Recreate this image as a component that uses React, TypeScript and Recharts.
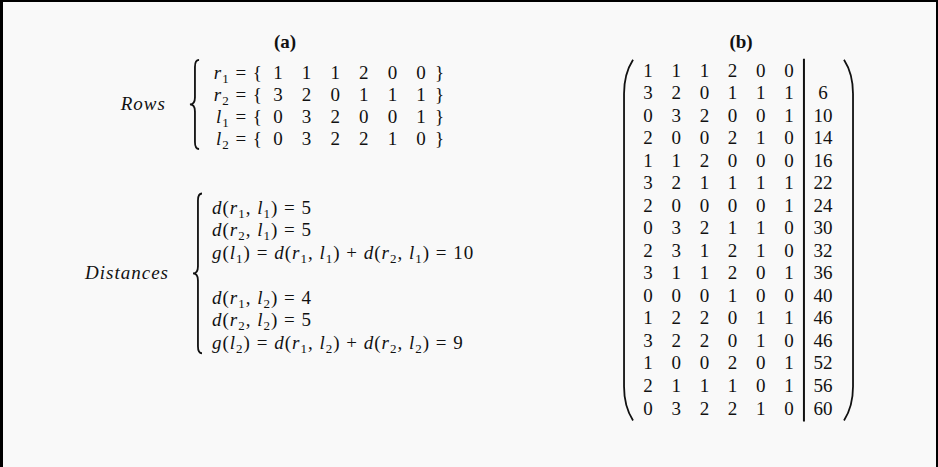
import React from 'react';
import { ScatterChart, Scatter, XAxis, YAxis, ReferenceArea, ReferenceLine } from 'recharts';

const W = 938;
const H = 467;
const FONT = '"Liberation Serif", "DejaVu Serif", serif';
const INK = '#111';
const FS = 19;

// (a) rows
const rowNames = ['r', 'r', 'l', 'l'];
const rowSubs = ['1', '2', '1', '2'];
const rowValues = [
  [1, 1, 1, 2, 0, 0],
  [3, 2, 0, 1, 1, 1],
  [0, 3, 2, 0, 0, 1],
  [0, 3, 2, 2, 1, 0],
];

// (a) distances: d(r1,l), d(r2,l) for each leaf, and g(l)
const leafSubs = ['1', '2'];
const leafDistances = [
  [5, 5],
  [4, 5],
];
const leafScores = [10, 9];

// (b) matrix + distance column
const matrixRows = [
  [1, 1, 1, 2, 0, 0],
  [3, 2, 0, 1, 1, 1],
  [0, 3, 2, 0, 0, 1],
  [2, 0, 0, 2, 1, 0],
  [1, 1, 2, 0, 0, 0],
  [3, 2, 1, 1, 1, 1],
  [2, 0, 0, 0, 0, 1],
  [0, 3, 2, 1, 1, 0],
  [2, 3, 1, 2, 1, 0],
  [3, 1, 1, 2, 0, 1],
  [0, 0, 0, 1, 0, 0],
  [1, 2, 2, 0, 1, 1],
  [3, 2, 2, 0, 1, 0],
  [1, 0, 0, 2, 0, 1],
  [2, 1, 1, 1, 0, 1],
  [0, 3, 2, 2, 1, 0],
];
const matrixDist = ['', '6', '10', '14', '16', '22', '24', '30', '32', '36', '40', '46', '46', '52', '56', '60'];

type Tok = { s: string; it?: boolean; sub?: boolean };

function MathText({ x, y, toks, anchor = 'start', spacing = 0 }: { x: number; y: number; toks: Tok[]; anchor?: string; spacing?: number }) {
  let down = false;
  return (
    <text x={x} y={y} textAnchor={anchor as any} fill={INK}
      style={{ whiteSpace: 'pre', fontFamily: FONT, fontSize: FS, letterSpacing: spacing }}>
      {toks.map((t, i) => {
        let dy: number | undefined;
        if (t.sub && !down) dy = 4;
        if (!t.sub && down) dy = -4;
        down = !!t.sub;
        return (
          <tspan key={i} dy={dy} style={{ fontStyle: t.it ? 'italic' : 'normal', fontSize: t.sub ? 13 : FS }}>
            {t.s}
          </tspan>
        );
      })}
    </text>
  );
}

const dTok = (r: string, l: string): Tok[] => [
  { s: 'd', it: true }, { s: '(' }, { s: 'r', it: true }, { s: r, sub: true }, { s: ', ' },
  { s: 'l', it: true }, { s: l, sub: true }, { s: ')' },
];

const rowCells = rowValues.flatMap((vals, row) => vals.map((v, col) => ({ col, row, v })));
const rowLabels = rowNames.map((n, row) => ({ col: 0, row, n, sub: rowSubs[row] }));
const rowClose = rowNames.map((_, row) => ({ col: 5, row }));

const distLines: { col: number; row: number; toks: Tok[] }[] = [];
leafSubs.forEach((l, k) => {
  leafDistances[k].forEach((d, j) => {
    distLines.push({ col: 0, row: k * 4 + j, toks: [...dTok(String(j + 1), l), { s: ` = ${d}` }] });
  });
  distLines.push({
    col: 0,
    row: k * 4 + 2,
    toks: [
      { s: 'g', it: true }, { s: '(' }, { s: 'l', it: true }, { s: l, sub: true }, { s: ') = ' },
      ...dTok('1', l), { s: ' + ' }, ...dTok('2', l), { s: ` = ${leafScores[k]}` },
    ],
  });
});

const matCells = matrixRows.flatMap((vals, row) => vals.map((v, col) => ({ col, row, v })));
const matDist = matrixDist.map((v, row) => ({ col: 5, row, v }));

const txt: React.CSSProperties = { fontFamily: FONT, fontSize: FS };

const Digit = (p: any) => (
  <text x={p.cx} y={p.cy} dy={6.5} textAnchor="middle" fill={INK} style={txt}>
    {p.payload.v}
  </text>
);

const DistDigit = (p: any) => (
  <text x={p.cx + 34} y={p.cy} dy={6.5} textAnchor="middle" fill={INK} style={txt}>
    {p.payload.v}
  </text>
);

const RowLabel = (p: any) => (
  <MathText x={p.cx - 15} y={p.cy + 6.5} anchor="end"
    toks={[{ s: p.payload.n, it: true }, { s: p.payload.sub, sub: true }, { s: ' = {' }]} spacing={1} />
);

const RowClose = (p: any) => (
  <text x={p.cx + 14} y={p.cy} dy={6.5} fill={INK} style={txt}>{'}'}</text>
);

const DistLine = (p: any) => <MathText x={p.cx} y={p.cy + 6.5} toks={p.payload.toks} spacing={1} />;

function Brace(p: any) {
  const { x, y, width: w, height: h, label } = p;
  const m = y + h / 2;
  const xm = x + w * 0.55;
  const r = 7;
  const d = `M${x + w},${y} Q${xm},${y} ${xm},${y + r} L${xm},${m - r} Q${xm},${m} ${x},${m} Q${xm},${m} ${xm},${m + r} L${xm},${y + h - r} Q${xm},${y + h} ${x + w},${y + h}`;
  return (
    <g>
      <path d={d} fill="none" stroke={INK} strokeWidth={1.8} />
      <text x={x - 24} y={m + 6} textAnchor="end" fill={INK}
        style={{ ...txt, fontStyle: 'italic', letterSpacing: 1 }}>{label}</text>
    </g>
  );
}

function Parens(p: any) {
  const { x, y, width: w, height: h } = p;
  const c = 9;
  const k = 34;
  return (
    <g fill="none" stroke={INK} strokeWidth={1.8}>
      <path d={`M${x + c},${y} Q${x},${y + 14} ${x},${y + k} L${x},${y + h - k} Q${x},${y + h - 14} ${x + c},${y + h}`} />
      <path d={`M${x + w - c},${y} Q${x + w},${y + 14} ${x + w},${y + k} L${x + w},${y + h - k} Q${x + w},${y + h - 14} ${x + w - c},${y + h}`} />
    </g>
  );
}

const layer: React.CSSProperties = { position: 'absolute', left: 0, top: 0 };

export default function App() {
  return (
    <div style={{ position: 'relative', width: W, height: H, background: '#f9f9f9', overflow: 'hidden' }}>
      <style>{'body{margin:0}'}</style>

      {/* (a) rows */}
      <div style={layer}>
        <ScatterChart width={W} height={H} margin={{ top: 72, bottom: H - 138, left: 278, right: W - 421 }}>
          <XAxis type="number" dataKey="col" domain={[0, 5]} hide />
          <YAxis type="number" dataKey="row" domain={[0, 3]} reversed hide />
          <ReferenceArea x1={-3.08} x2={-2.76} y1={-0.55} y2={3.5} ifOverflow="visible"
            shape={(p: any) => <Brace {...p} label="Rows" />} />
          <Scatter data={rowCells} shape={Digit} isAnimationActive={false} />
          <Scatter data={rowLabels} shape={RowLabel} isAnimationActive={false} />
          <Scatter data={rowClose} shape={RowClose} isAnimationActive={false} />
        </ScatterChart>
      </div>

      {/* (a) distances */}
      <div style={layer}>
        <ScatterChart width={W} height={H} margin={{ top: 207, bottom: H - 342, left: 212, right: W - 312 }}>
          <XAxis type="number" dataKey="col" domain={[0, 1]} hide />
          <YAxis type="number" dataKey="row" domain={[0, 6]} reversed hide />
          <ReferenceArea x1={-0.19} x2={-0.1} y1={-0.6} y2={6.5} ifOverflow="visible"
            shape={(p: any) => <Brace {...p} label="Distances" />} />
          <Scatter data={distLines} shape={DistLine} isAnimationActive={false} />
        </ScatterChart>
      </div>

      {/* (b) matrix */}
      <div style={layer}>
        <ScatterChart width={W} height={H} margin={{ top: 70, bottom: H - 408, left: 648, right: W - 789 }}>
          <XAxis type="number" dataKey="col" domain={[0, 5]} hide />
          <YAxis type="number" dataKey="row" domain={[0, 15]} reversed hide />
          <ReferenceArea x1={-0.85} x2={7.27} y1={-0.45} y2={15.55} ifOverflow="visible" shape={Parens} />
          <ReferenceLine segment={[{ x: 5.53, y: -0.5 }, { x: 5.53, y: 15.6 }]} ifOverflow="visible"
            stroke={INK} strokeWidth={2} />
          <Scatter data={matCells} shape={Digit} isAnimationActive={false} />
          <Scatter data={matDist} shape={DistDigit} isAnimationActive={false} />
        </ScatterChart>
      </div>

      <svg width={W} height={H} style={{ ...layer, pointerEvents: 'none' }}>
        <text x={285} y={48} textAnchor="middle" fill={INK} style={{ ...txt, fontWeight: 'bold' }}>(a)</text>
        <text x={741} y={48} textAnchor="middle" fill={INK} style={{ ...txt, fontWeight: 'bold' }}>(b)</text>
      </svg>

      <div style={{ ...layer, width: W, height: H, boxSizing: 'border-box', borderLeft: '3px solid #000',
        borderTop: '2px solid #000', borderRight: '2px solid #000' }} />
    </div>
  );
}
